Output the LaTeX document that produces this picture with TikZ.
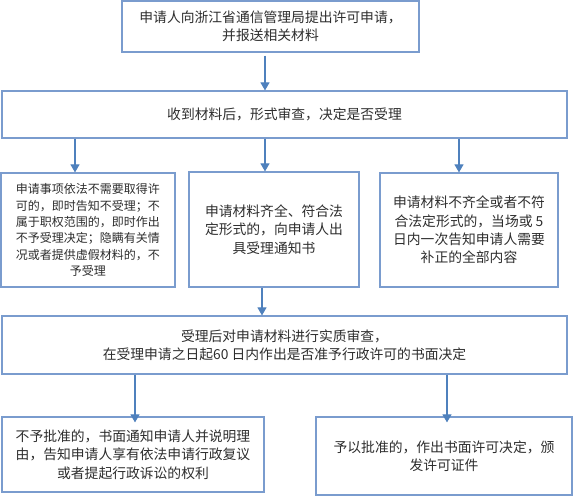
\documentclass[tikz,border=0pt]{standalone}
\usepackage{fontspec}
\setmainfont{Noto Sans CJK SC}
\usetikzlibrary{arrows.meta}
\definecolor{boxline}{RGB}{122,156,206}
\definecolor{arrline}{RGB}{79,129,189}
\definecolor{txt}{RGB}{45,45,45}
\tikzset{
  box/.style={draw=boxline, line width=1.2pt, rectangle, inner sep=0pt, align=center, text=txt, font=\fontsize{13.8}{18.3}\selectfont},
  smallbox/.style={box, font=\fontsize{12}{16.3}\selectfont},
  arr/.style={draw=arrline, line width=1.1pt, -{Triangle[length=8pt,width=9pt]}}
}
\begin{document}
\begin{tikzpicture}[x=1pt,y=-1pt]
\useasboundingbox (0,0) rectangle (573,496);
\node[box, minimum width=297pt, minimum height=51pt] (b1) at (270.5,26.5) {申请人向浙江省通信管理局提出许可申请，\\并报送相关材料};
\node[box, minimum width=565pt, minimum height=47pt] (b2) at (284.5,114.5) {收到材料后，形式审查，决定是否受理};
\node[smallbox, minimum width=174pt, minimum height=114pt] (b3) at (88,230) {申请事项依法不需要取得许\\可的，即时告知不受理；不\\属于职权范围的，即时作出\\不予受理决定；隐瞒有关情\\况或者提供虚假材料的，不\\予受理};
\node[box, minimum width=170pt, minimum height=115pt] (b4) at (274,229.5) {申请材料齐全、符合法\\定形式的，向申请人出\\具受理通知书};
\node[box, minimum width=178pt, minimum height=114pt] (b5) at (469,230) {申请材料不齐全或者不符\\合法定形式的，当场或 5\\日内一次告知申请人需要\\补正的全部内容};
\node[box, minimum width=565pt, minimum height=58pt] (b6) at (284.5,345) {受理后对申请材料进行实质审查，\\在受理申请之日起60 日内作出是否准予行政许可的书面决定};
\node[box, minimum width=262pt, minimum height=75pt] (b7) at (133,454.5) {不予批准的，书面通知申请人并说明理\\由，告知申请人享有依法申请行政复议\\或者提起行政诉讼的权利};
\node[box, minimum width=256pt, minimum height=78pt] (b8) at (444,456) {予以批准的，作出书面许可决定，颁\\发许可证件};
\draw[arr, shorten <=3pt] (b1.south -| 265,0) -- (b2.north -| 265,0);
\draw[arr] (b2.south -| 75,0) -- (b3.north -| 75,0);
\draw[arr] (b2.south -| 265,0) -- (b4.north -| 265,0);
\draw[arr] (b2.south -| 459,0) -- (b5.north -| 459,0);
\draw[arr] (b4.south -| 262,0) -- (b6.north -| 262,0);
\draw[arr] (b6.south -| 135,0) -- ([yshift=-6pt]b7.north -| 135,0);
\draw[arr] (b6.south -| 447,0) -- ([yshift=-6pt]b8.north -| 447,0);
\end{tikzpicture}
\end{document}
